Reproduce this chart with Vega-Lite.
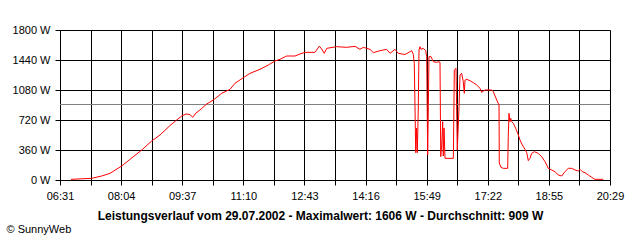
{
  "$schema": "https://vega.github.io/schema/vega-lite/v6.json",
  "width": 550,
  "height": 150,
  "autosize": "none",
  "padding": {"left": 60, "top": 30, "right": 30, "bottom": 60},
  "background": "white",
  "config": {
    "view": {"stroke": null},
    "font": "Liberation Sans",
    "axis": {
      "labelFont": "Liberation Sans",
      "labelFontSize": 11,
      "labelColor": "black",
      "gridColor": "black",
      "gridOpacity": 1,
      "gridWidth": 1,
      "domainColor": "black",
      "domainWidth": 1,
      "tickColor": "black",
      "tickSize": 5,
      "tickWidth": 1,
      "labelFlush": false,
      "labelOverlap": false
    }
  },
  "data": {
    "values": [
      {"t": 407.8, "w": 8}, {"t": 439.3, "w": 20}, {"t": 454.5, "w": 48}, {"t": 467.2, "w": 80},
      {"t": 485.0, "w": 168}, {"t": 497.7, "w": 248}, {"t": 515.5, "w": 360}, {"t": 530.7, "w": 468},
      {"t": 543.4, "w": 540}, {"t": 558.6, "w": 654}, {"t": 568.8, "w": 720}, {"t": 576.4, "w": 768},
      {"t": 583.0, "w": 792}, {"t": 589.1, "w": 786}, {"t": 593.2, "w": 752}, {"t": 598.2, "w": 804},
      {"t": 604.3, "w": 840}, {"t": 614.5, "w": 912}, {"t": 624.6, "w": 960}, {"t": 637.4, "w": 1040},
      {"t": 650.0, "w": 1088}, {"t": 657.6, "w": 1160}, {"t": 670.3, "w": 1228}, {"t": 680.5, "w": 1280},
      {"t": 695.7, "w": 1328}, {"t": 708.4, "w": 1380}, {"t": 718.6, "w": 1428}, {"t": 726.2, "w": 1448},
      {"t": 736.4, "w": 1488}, {"t": 749.1, "w": 1488}, {"t": 756.7, "w": 1512}, {"t": 764.3, "w": 1532},
      {"t": 779.5, "w": 1532}, {"t": 786.1, "w": 1606}, {"t": 789.7, "w": 1572}, {"t": 793.7, "w": 1520},
      {"t": 797.4, "w": 1580}, {"t": 812.6, "w": 1600}, {"t": 827.8, "w": 1592}, {"t": 840.5, "w": 1604},
      {"t": 848.1, "w": 1568}, {"t": 853.1, "w": 1592}, {"t": 863.3, "w": 1568}, {"t": 868.4, "w": 1528},
      {"t": 878.6, "w": 1552}, {"t": 888.8, "w": 1568}, {"t": 893.8, "w": 1520}, {"t": 901.4, "w": 1568},
      {"t": 906.4, "w": 1520}, {"t": 916.6, "w": 1506}, {"t": 924.3, "w": 1540}, {"t": 926.8, "w": 1552},
      {"t": 929.3, "w": 1508}, {"t": 930.8, "w": 1400}, {"t": 931.9, "w": 880}, {"t": 933.0, "w": 328},
      {"t": 934.2, "w": 624}, {"t": 935.4, "w": 328}, {"t": 936.9, "w": 876}, {"t": 938.0, "w": 1560},
      {"t": 939.5, "w": 1600}, {"t": 941.0, "w": 1568}, {"t": 944.5, "w": 1580}, {"t": 948.2, "w": 1552},
      {"t": 949.7, "w": 1480}, {"t": 951.2, "w": 300}, {"t": 952.2, "w": 880}, {"t": 953.2, "w": 1480},
      {"t": 956.3, "w": 1480}, {"t": 958.2, "w": 1448}, {"t": 959.8, "w": 1420}, {"t": 964.9, "w": 1412},
      {"t": 968.5, "w": 1420}, {"t": 970.0, "w": 1412}, {"t": 971.1, "w": 280}, {"t": 972.6, "w": 420},
      {"t": 974.1, "w": 700}, {"t": 975.0, "w": 288}, {"t": 976.1, "w": 624}, {"t": 977.6, "w": 260},
      {"t": 990.3, "w": 260}, {"t": 991.8, "w": 1320}, {"t": 994.4, "w": 1340}, {"t": 996.3, "w": 360},
      {"t": 999.0, "w": 880}, {"t": 1000.5, "w": 1260}, {"t": 1003.0, "w": 1280}, {"t": 1005.5, "w": 1180},
      {"t": 1007.0, "w": 1040}, {"t": 1008.1, "w": 1200}, {"t": 1010.7, "w": 1208}, {"t": 1015.7, "w": 1192},
      {"t": 1020.7, "w": 1168}, {"t": 1025.9, "w": 1140}, {"t": 1031.0, "w": 1100}, {"t": 1033.5, "w": 1052},
      {"t": 1038.5, "w": 1080}, {"t": 1048.8, "w": 1080}, {"t": 1051.2, "w": 1060}, {"t": 1056.4, "w": 960},
      {"t": 1059.9, "w": 900}, {"t": 1060.3, "w": 204}, {"t": 1062.9, "w": 152}, {"t": 1066.4, "w": 140},
      {"t": 1073.1, "w": 140}, {"t": 1074.0, "w": 520}, {"t": 1075.1, "w": 800}, {"t": 1076.6, "w": 700},
      {"t": 1077.7, "w": 740}, {"t": 1079.2, "w": 700}, {"t": 1081.7, "w": 680}, {"t": 1085.3, "w": 620},
      {"t": 1088.4, "w": 560}, {"t": 1091.9, "w": 480}, {"t": 1095.4, "w": 420}, {"t": 1099.5, "w": 368},
      {"t": 1102.1, "w": 328}, {"t": 1104.5, "w": 232}, {"t": 1107.1, "w": 260}, {"t": 1109.7, "w": 320},
      {"t": 1113.7, "w": 340}, {"t": 1119.7, "w": 320}, {"t": 1124.9, "w": 280}, {"t": 1130.0, "w": 220},
      {"t": 1135.0, "w": 140}, {"t": 1140.2, "w": 120}, {"t": 1145.2, "w": 100}, {"t": 1150.2, "w": 60},
      {"t": 1155.4, "w": 48}, {"t": 1160.4, "w": 100}, {"t": 1165.5, "w": 140}, {"t": 1170.6, "w": 140},
      {"t": 1175.7, "w": 120}, {"t": 1180.7, "w": 108}, {"t": 1183.3, "w": 128}, {"t": 1186.8, "w": 100},
      {"t": 1190.9, "w": 88}, {"t": 1196.0, "w": 60}, {"t": 1201.1, "w": 32}, {"t": 1206.1, "w": 8},
      {"t": 1218.8, "w": 8}
    ]
  },
  "layer": [
    {
      "mark": {"type": "rule", "color": "#808080", "strokeWidth": 1, "yOffset": 0.25},
      "encoding": {
        "y": {"datum": 909, "type": "quantitative"}
      }
    },
    {
      "mark": {"type": "line", "color": "#ff0000", "strokeWidth": 1, "interpolate": "linear"},
      "encoding": {
        "x": {
          "field": "t",
          "type": "quantitative",
          "scale": {"domain": [391, 1229], "nice": false, "zero": false},
          "axis": {
            "values": [391, 437.5556, 484.1111, 530.6667, 577.2222, 623.7778, 670.3333, 716.8889, 763.4444, 810, 856.5556, 903.1111, 949.6667, 996.2222, 1042.7778, 1089.3333, 1135.8889, 1182.4444, 1229],
            "tickCount": 30,
            "grid": true,
            "labelOverlap": false,
            "labelFlush": false,
            "labelPadding": 5,
            "labelExpr": "round((datum.value-391)/46.5556) % 2 == 0 ? (floor(datum.value/60) < 10 ? '0' : '') + floor(datum.value/60) + ':' + (floor(datum.value % 60) < 10 ? '0' : '') + floor(datum.value % 60) : ''",
            "title": "Leistungsverlauf vom 29.07.2002 - Maximalwert: 1606 W - Durchschnitt: 909 W",
            "titleFont": "Liberation Sans",
            "titleFontSize": 12,
            "titleFontWeight": "bold",
            "titleColor": "black",
            "titleAlign": "center",
            "titleBaseline": "alphabetic",
            "titleX": 260,
            "titleY": 39
          }
        },
        "y": {
          "field": "w",
          "type": "quantitative",
          "scale": {"domain": [0, 1800], "nice": false},
          "axis": {
            "values": [0, 360, 720, 1080, 1440, 1800],
            "tickCount": 10,
            "grid": true,
            "labelOverlap": false,
            "labelFlush": false,
            "labelPadding": 5,
            "labelExpr": "datum.value + ' W'",
            "title": "© SunnyWeb",
            "titleFont": "Liberation Sans",
            "titleFontSize": 11,
            "titleFontWeight": "normal",
            "titleColor": "black",
            "titleAngle": 0,
            "titleAlign": "left",
            "titleBaseline": "alphabetic",
            "titleX": -54,
            "titleY": 202
          }
        }
      }
    }
  ]
}
